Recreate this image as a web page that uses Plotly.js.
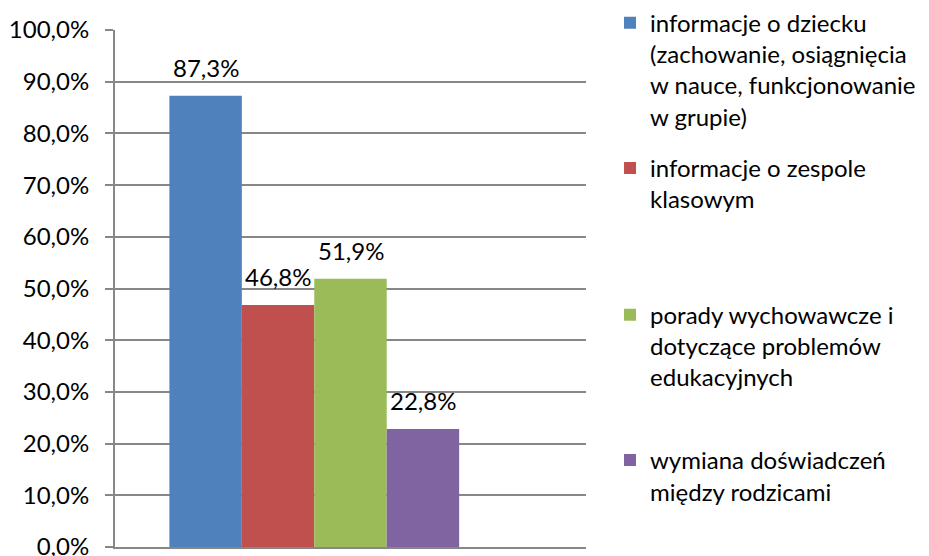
<!DOCTYPE html>
<html>
<head>
<meta charset="utf-8">
<script src="https://cdn.plot.ly/plotly-3.0.1.min.js"></script>
<style>
  html, body { margin: 0; padding: 0; background: #fff; }
  #chart { width: 929px; height: 556px; }
</style>
</head>
<body>
<div id="chart"></div>
<script>
// one category group, one series per answer (Excel chart had an empty 5th series slot)
const category = ['odpowiedzi'];
const seriesNames = [
  'informacje o dziecku<br>(zachowanie, osiągnięcia<br>w nauce, funkcjonowanie<br>w grupie)',
  'informacje o zespole<br>klasowym',
  'porady wychowawcze i<br>dotyczące problemów<br>edukacyjnych',
  'wymiana doświadczeń<br>między rodzicami'
];
const seriesValues = [87.3, 46.8, 51.9, 22.8];
const seriesColors = ['#4F81BD', '#C0504D', '#9BBB59', '#8064A2'];
const yTicks = [0, 10, 20, 30, 40, 50, 60, 70, 80, 90, 100];

const FONT = 'Lato, "Open Sans", sans-serif';
const FS = 24;
const fmt = v => v.toFixed(1).replace('.', ',') + '%';

const legendIds = ['legend', 'legend2', 'legend3', 'legend4'];
const legendTops = [1.057, 0.776, 0.492, 0.211];

const traces = seriesNames.map((name, i) => ({
  type: 'bar',
  name: name,
  x: category,
  y: [seriesValues[i]],
  marker: { color: seriesColors[i], line: { width: 0 } },
  legend: legendIds[i],
  hoverinfo: 'name+y'
}));
// empty series keeps the fifth slot, as in the original workbook
traces.push({ type: 'bar', name: '', x: category, y: [null], showlegend: false, hoverinfo: 'skip' });

const nSlots = traces.length;
const bargap = 0.231;
const slotW = (1 - bargap) / nSlots;

// value labels above each bar
const annotations = seriesValues.map((v, i) => ({
  x: -(1 - bargap) / 2 + slotW * (i + 0.5),
  y: v,
  xref: 'x', yref: 'y',
  text: fmt(v),
  showarrow: false,
  yanchor: 'bottom',
  yshift: 12,
  font: { family: FONT, size: FS, color: '#000' }
}));

const layout = {
  width: 929, height: 556,
  margin: { l: 114.5, r: 343, t: 30.3, b: 9, autoexpand: false },
  paper_bgcolor: '#fff', plot_bgcolor: '#fff',
  font: { family: FONT, size: FS, color: '#000' },
  barmode: 'group',
  bargap: bargap,
  bargroupgap: 0,
  showlegend: true,
  xaxis: {
    type: 'category',
    showticklabels: false,
    ticks: '',
    showgrid: false,
    showline: true, linecolor: '#878787', linewidth: 2,
    zeroline: false,
    fixedrange: true
  },
  yaxis: {
    range: [0, 100],
    tickvals: yTicks,
    ticktext: yTicks.map(fmt),
    ticks: 'outside', ticklen: 8, tickwidth: 2, tickcolor: '#878787',
    ticklabelstandoff: 11,
    ticklabeloverflow: 'allow',
    showgrid: true, gridcolor: '#878787', gridwidth: 2,
    showline: true, linecolor: '#878787', linewidth: 2,
    zeroline: false,
    tickfont: { family: FONT, size: FS, color: '#000' },
    fixedrange: true
  },
  annotations: annotations
};

legendIds.forEach((id, i) => {
  layout[id] = {
    x: 1.051, xanchor: 'left',
    y: legendTops[i], yanchor: 'top',
    bgcolor: 'rgba(0,0,0,0)', borderwidth: 0,
    valign: 'top',
    font: { family: FONT, size: FS, color: '#000' }
  };
});

Plotly.newPlot('chart', traces, layout, { displayModeBar: false, staticPlot: true });
</script>
</body>
</html>
